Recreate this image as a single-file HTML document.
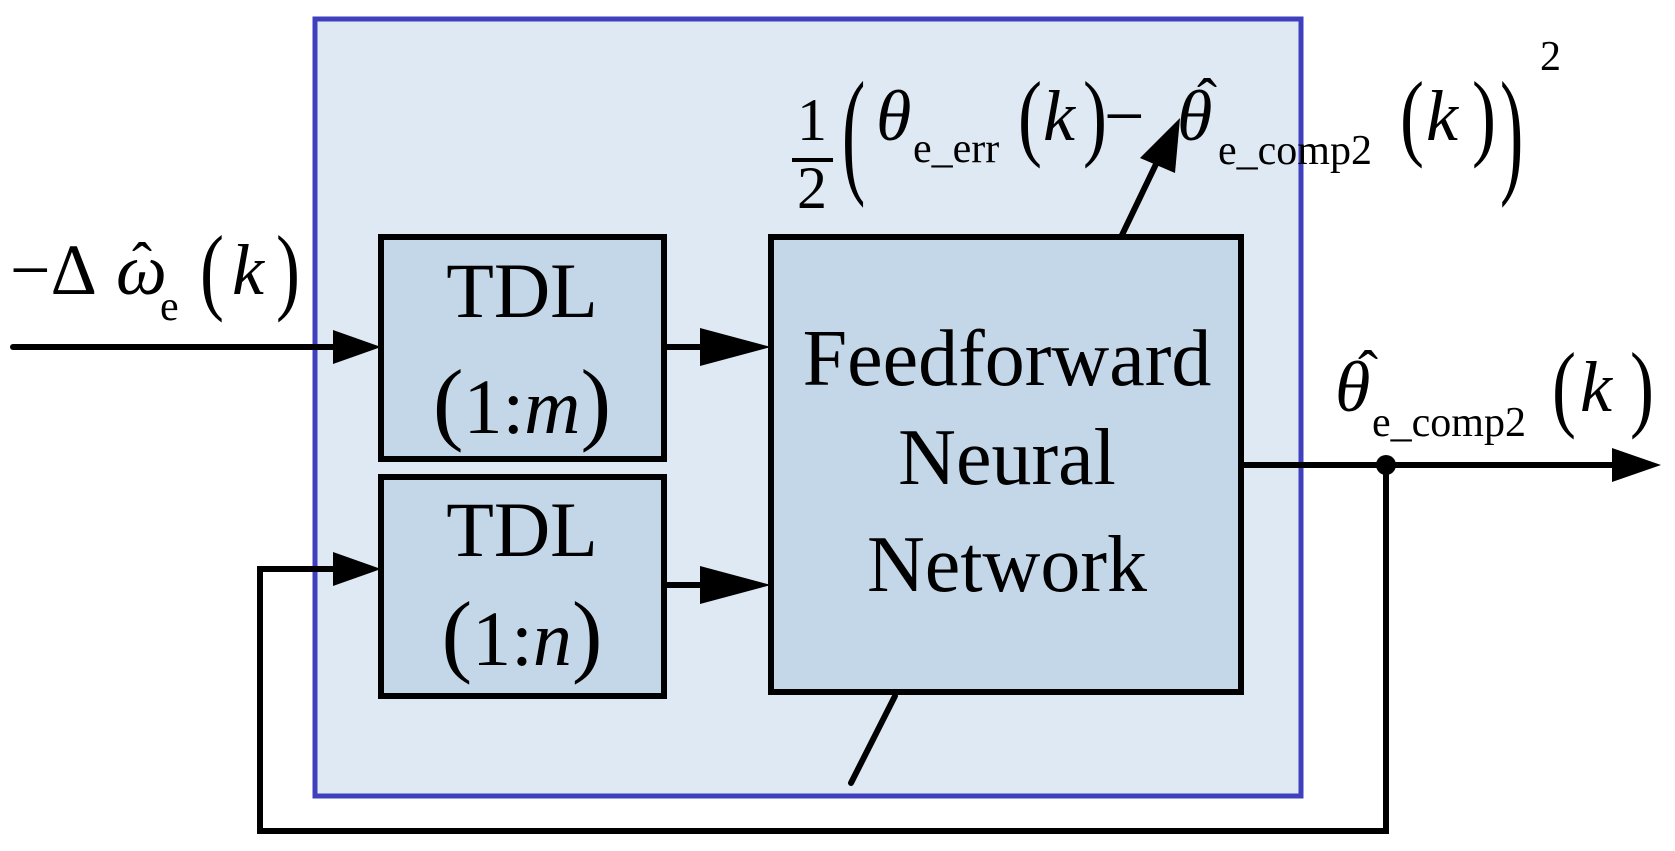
<!DOCTYPE html>
<html><head><meta charset="utf-8"><style>
html,body{margin:0;padding:0;background:#fff}
svg{display:block}
text{font-family:"Liberation Serif",serif;fill:#000}
.i{font-style:italic}
</style></head><body>
<svg width="1675" height="851" viewBox="0 0 1675 851" xmlns="http://www.w3.org/2000/svg">
<rect x="315" y="19" width="986" height="777" fill="#dfe9f3" stroke="#4040bf" stroke-width="5"/>
<rect x="381" y="237" width="283" height="222" fill="#c4d7e8" stroke="#000" stroke-width="6"/>
<rect x="381" y="477" width="283" height="219" fill="#c4d7e8" stroke="#000" stroke-width="6"/>
<rect x="771" y="237" width="470" height="455" fill="#c4d7e8" stroke="#000" stroke-width="6"/>
<g stroke="#000" stroke-width="6" fill="none" stroke-linecap="round">
<line x1="13" y1="347" x2="340" y2="347"/>
<line x1="664" y1="347" x2="730" y2="347"/>
<line x1="664" y1="585" x2="730" y2="585"/>
<polyline points="1386,465 1386,831 260,831 260,569 340,569" stroke-linecap="butt"/>
<line x1="1241" y1="465" x2="1620" y2="465"/>
<line x1="1122" y1="235" x2="1158" y2="160"/>
<line x1="895" y1="696" x2="851" y2="783"/>
</g>
<g fill="#000">
<polygon points="381,347 333,330 333,364"/>
<polygon points="771,347 700,328 700,366"/>
<polygon points="771,585 700,566 700,604"/>
<polygon points="381,569 333,552 333,586"/>
<polygon points="1661,465 1612,448 1612,482"/>
<polygon points="1180,118 1140,158 1175,173"/>
<circle cx="1386" cy="465" r="10"/>
</g>
<text x="522" y="317" font-size="78" text-anchor="middle">TDL</text>
<text x="522" y="433" font-size="78" text-anchor="middle"><tspan font-size="92">(</tspan>1:<tspan class="i">m</tspan><tspan font-size="92">)</tspan></text>
<text x="522" y="556" font-size="78" text-anchor="middle">TDL</text>
<text x="522" y="665" font-size="78" text-anchor="middle"><tspan font-size="92">(</tspan>1:<tspan class="i">n</tspan><tspan font-size="92">)</tspan></text>
<text x="1007" y="385" font-size="80" text-anchor="middle">Feedforward</text>
<text x="1007" y="484" font-size="80" text-anchor="middle">Neural</text>
<text x="1007" y="591" font-size="80" text-anchor="middle">Network</text>
<!-- input label -->
<text x="10" y="294" font-size="72">−Δ</text>
<text x="116" y="294" font-size="72" class="i">ω</text>
<text x="132" y="284" font-size="60">ˆ</text>
<text x="160" y="320" font-size="42">e</text>
<text x="200" y="302" font-size="96" transform="translate(200,0) scale(0.75,1) translate(-200,0)">(</text>
<text x="232" y="294" font-size="72" class="i">k</text>
<text x="276" y="302" font-size="96" transform="translate(276,0) scale(0.75,1) translate(-276,0)">)</text>
<!-- output label -->
<text x="1335" y="411" font-size="72" class="i">θ</text>
<text x="1358" y="392" font-size="60">ˆ</text>
<text x="1372" y="436" font-size="42">e_comp2</text>
<text x="1552" y="419" font-size="96" transform="translate(1552,0) scale(0.75,1) translate(-1552,0)">(</text>
<text x="1580" y="411" font-size="72" class="i">k</text>
<text x="1630" y="419" font-size="96" transform="translate(1630,0) scale(0.75,1) translate(-1630,0)">)</text>
<!-- top formula -->
<text x="812" y="140" font-size="60" text-anchor="middle">1</text>
<line x1="792" y1="160" x2="833" y2="160" stroke="#000" stroke-width="4"/>
<text x="812" y="208" font-size="60" text-anchor="middle">2</text>
<text x="842" y="178" font-size="140" transform="translate(842,0) scale(0.5,1) translate(-842,0)">(</text>
<text x="876" y="140" font-size="72" class="i">θ</text>
<text x="913" y="162" font-size="42">e_err</text>
<text x="1018" y="148" font-size="96" transform="translate(1018,0) scale(0.75,1) translate(-1018,0)">(</text>
<text x="1043" y="140" font-size="72" class="i">k</text>
<text x="1083" y="148" font-size="96" transform="translate(1083,0) scale(0.75,1) translate(-1083,0)">)</text>
<text x="1104" y="140" font-size="72">−</text>
<text x="1177" y="140" font-size="72" class="i">θ</text>
<text x="1197" y="120" font-size="60">ˆ</text>
<text x="1218" y="164" font-size="42">e_comp2</text>
<text x="1400" y="148" font-size="96" transform="translate(1400,0) scale(0.75,1) translate(-1400,0)">(</text>
<text x="1426" y="140" font-size="72" class="i">k</text>
<text x="1472" y="148" font-size="96" transform="translate(1472,0) scale(0.75,1) translate(-1472,0)">)</text>
<text x="1500" y="178" font-size="140" transform="translate(1500,0) scale(0.5,1) translate(-1500,0)">)</text>
<text x="1540" y="70" font-size="42">2</text>
</svg>
</body></html>
